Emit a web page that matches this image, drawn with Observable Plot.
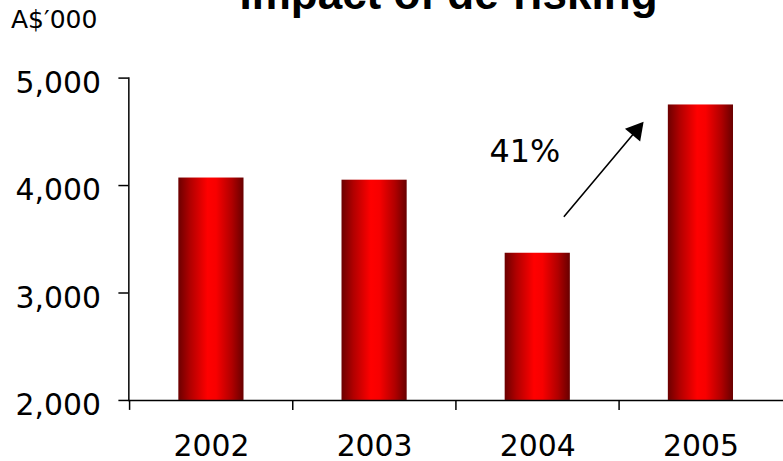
<!DOCTYPE html>
<html>
<head>
<meta charset="utf-8">
<script src="https://cdn.jsdelivr.net/npm/d3@7"></script>
<script src="https://cdn.jsdelivr.net/npm/@observablehq/plot@0.6"></script>
<style>
  html, body { margin: 0; padding: 0; background: #fff; overflow: hidden; }
  #wrap { position: relative; width: 783px; height: 461px; overflow: hidden; }
  #title { position: absolute; left: 0; width: 897px; top: -28px; text-align: center;
           font: bold 44px "Liberation Sans", Arial, sans-serif; line-height: 44px; color: #000; white-space: nowrap; }
  #unit { position: absolute; left: 11px; top: 6px; font: 25px "DejaVu Sans", sans-serif; line-height: 28px; color: #000; }
  #chart { position: absolute; left: 0; top: 0; }
</style>
</head>
<body>
<div id="wrap">
  <div id="chart"></div>
  <div id="title">Impact of de-risking</div>
  <div id="unit">A$′000</div>
</div>
<script>
// ---- data ----
const years = ["2002", "2003", "2004", "2005"];
const values = [4070, 4050, 3370, 4750];
const yTicks = [2000, 3000, 4000, 5000];
// annotation: growth label and arrow (data units)
const growthLabel = ["41%"];
const growthLabelYear = ["2004"];
const growthLabelValue = [4310];
const arrowYears = ["2004", "2005"];     // start, end
const arrowValues = [3419, 5228];        // start, end
const headYear = ["2005"];
const headValue = [4511];

const data = years.map((year, i) => ({year, value: values[i]}));
const arrowData = [{x1: arrowYears[0], y1: arrowValues[0], x2: arrowYears[1], y2: arrowValues[1]}];
const labelData = growthLabel.map((t, i) => ({t, year: growthLabelYear[i], value: growthLabelValue[i]}));
const headData = headYear.map((year, i) => ({year, value: headValue[i]}));

const W = 787, H = 461, mL = 129, mR = 0, mT = 78, mB = 59;
const step = (W - mL - mR) / years.length;
const barW = 66;
const inset = (step - barW) / 2;

function gradientDefs() {
  const ns = "http://www.w3.org/2000/svg";
  const defs = document.createElementNS(ns, "defs");
  const g = document.createElementNS(ns, "linearGradient");
  g.setAttribute("id", "barGrad");
  g.setAttribute("x1", "0"); g.setAttribute("x2", "1");
  g.setAttribute("y1", "0"); g.setAttribute("y2", "0");
  [[0, "#6c0000"], [0.18, "#b00000"], [0.45, "#ff0000"], [0.58, "#f80000"], [0.82, "#b00000"], [1, "#680000"]]
    .forEach(([o, c]) => {
      const s = document.createElementNS(ns, "stop");
      s.setAttribute("offset", o); s.setAttribute("stop-color", c);
      g.appendChild(s);
    });
  defs.appendChild(g);
  return defs;
}

const chart = Plot.plot({
  width: W, height: H,
  marginLeft: mL, marginRight: mR, marginTop: mT, marginBottom: mB,
  style: {fontFamily: "'DejaVu Sans', sans-serif", fontSize: "30px", color: "#000", background: "transparent", overflow: "visible"},
  x: {type: "band", domain: years, padding: 0, label: null},
  y: {domain: [yTicks[0], yTicks[yTicks.length - 1]], label: null},
  marks: [
    gradientDefs,
    Plot.barY(data, {x: "year", y1: () => yTicks[0], y2: "value", fill: "url(#barGrad)", insetLeft: inset, insetRight: inset}),
    Plot.frame({anchor: "left", stroke: "#000", strokeWidth: 1.5}),
    Plot.ruleY([yTicks[0]], {stroke: "#000", strokeWidth: 1.5}),
    Plot.axisY({ticks: yTicks, tickSize: 10, tickFormat: () => "", strokeWidth: 1.5, label: null}),
    Plot.axisY({ticks: yTicks, tickSize: 0, tickPadding: 28, tickFormat: d3.format(","), dy: 5, label: null, fill: "#000"}),
    Plot.axisX({tickSize: 10, tickFormat: () => "", dx: -step / 2, strokeWidth: 1.5, label: null}),
    Plot.axisX({tickSize: 0, tickPadding: 35, label: null, fill: "#000"}),
    Plot.arrow(arrowData, {x1: "x1", y1: "y1", x2: "x2", y2: "y2", insetStart: 41.5, insetEnd: 104, headLength: 0, stroke: "#000", strokeWidth: 1.6}),
    Plot.dot(headData, {x: "year", y: "value", dx: -65, symbol: "triangle", r: 7.4, rotate: 40, fill: "#000", stroke: "none"}),
    Plot.text(labelData, {x: "year", y: "value", text: "t", dx: -13, fontSize: 32, fill: "#000"})
  ]
});
document.getElementById("chart").appendChild(chart);
</script>
</body>
</html>
